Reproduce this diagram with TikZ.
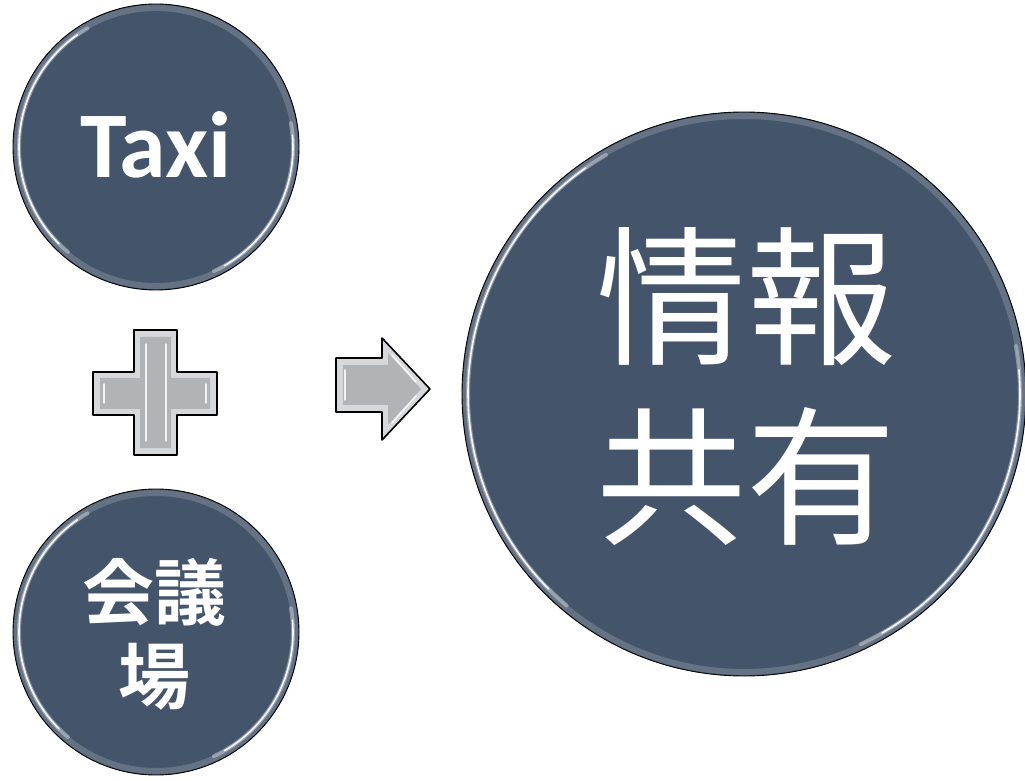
\documentclass[tikz,border=0pt]{standalone}
\usepackage{fontspec}
\newfontfamily\cjk{Noto Sans CJK JP}
\newfontfamily\cjkb{Noto Sans CJK JP Bold}
\newfontfamily\carl{Carlito}
\definecolor{slate}{HTML}{44546A}
\definecolor{grayface}{HTML}{B1B3B7}
\definecolor{grayrim}{HTML}{D6D8DB}
\tikzset{
  disc/.style={circle, fill=slate, draw=black, line width=0.9pt, inner sep=0pt, text=white, align=center},
  bevelring/.style={draw=white, draw opacity=0.18, line width=6pt},
  glow/.style={draw=white, draw opacity=0.35, line width=4pt, line cap=round},
  shine/.style={draw=white, draw opacity=0.9, line width=1.6pt, line cap=round},
  grayshape/.style={fill=grayrim, draw=black, line width=1.6pt, line join=round},
  grayface/.style={fill=grayface},
  grayinner/.style={draw=white, draw opacity=0.85, line width=1.4pt, line cap=round}
}
\newcommand{\bevelon}[2]{%
  \draw[bevelring] (#1.center) circle ({#2-4});
  \draw[glow] ([shift={(#1.center)}]120:{#2-6}) arc (120:230:{#2-6});
  \draw[glow] ([shift={(#1.center)}]-65:{#2-6}) arc (-65:10:{#2-6});
  \draw[shine] ([shift={(#1.center)}]125:{#2-6}) arc (125:225:{#2-6});
  \draw[shine] ([shift={(#1.center)}]-60:{#2-6}) arc (-60:5:{#2-6});
}
\begin{document}
\begin{tikzpicture}[x=1pt,y=1pt]
\useasboundingbox (0,0) rectangle (1025,780);
% circles
\node[disc, minimum size=286pt] (taxi) at (156,633) {};
\bevelon{taxi}{143}
\node[text=white, font=\carl\bfseries\fontsize{94}{100}\selectfont] (taxit) at (156,635) {Taxi};

\node[disc, minimum size=286pt] (kaigi) at (156,148) {};
\bevelon{kaigi}{143}
\node[text=white, align=center, font=\cjkb\fontsize{72}{84}\selectfont] (kaigit) at (154,146) {会議\\場};

\node[disc, minimum size=564pt] (joho) at (744,386) {};
\bevelon{joho}{282}
\node[text=white, align=center, font=\cjk\fontsize{150}{180}\selectfont] (johot) at (746,393) {情報\\共有};

% plus sign
\draw[grayshape] (134,450) -- (177,450) -- (177,408) -- (217,408) -- (217,365) -- (177,365)
  -- (177,325) -- (134,325) -- (134,365) -- (93,365) -- (93,408) -- (134,408) -- cycle;
\fill[grayface] (140,443) -- (171,443) -- (171,402) -- (210,402) -- (210,371) -- (171,371)
  -- (171,332) -- (140,332) -- (140,371) -- (100,371) -- (100,402) -- (140,402) -- cycle;
\draw[grayinner] (146,436) -- (146,339);
\draw[grayinner] (166,436) -- (166,339);
\draw[grayinner] (104,396) -- (104,377);
\draw[grayinner] (206,396) -- (206,377);

% arrow
\draw[grayshape] (336,422) -- (382,422) -- (382,442) -- (430,391) -- (382,340) -- (382,368)
  -- (336,368) -- cycle;
\fill[grayface] (343,415) -- (388,415) -- (388,427) -- (421,391) -- (388,355) -- (388,375)
  -- (343,375) -- cycle;
\draw[grayinner] (345,410) -- (345,380);
\draw[grayinner] (392,425) -- (416,398);
\draw[grayinner] (392,357) -- (416,384);
\end{tikzpicture}
\end{document}
